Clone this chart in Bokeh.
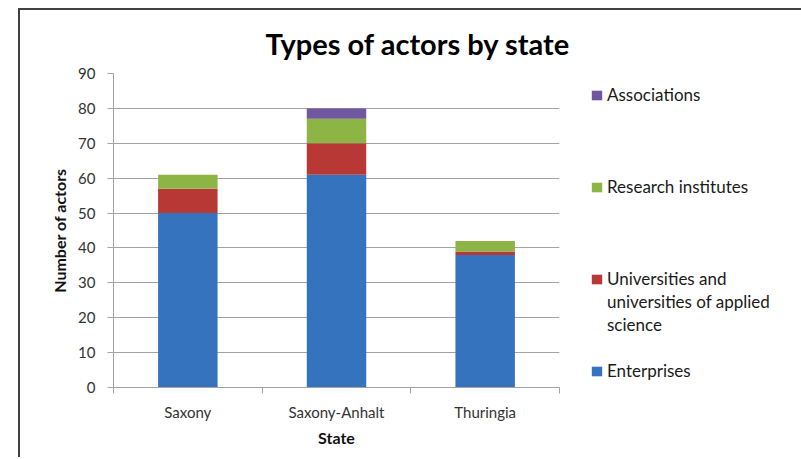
from bokeh.plotting import figure
from bokeh.models import (Range1d, FixedTicker, Legend, LegendItem, ColumnDataSource)
from bokeh.embed import file_html
from bokeh.resources import INLINE

# ---- data ----
states = ["Saxony", "Saxony-Anhalt", "Thuringia"]
enterprises = [50, 61, 38]
universities = [7, 9, 1]
research = [4, 7, 3]
associations = [0, 3, 0]
series_keys = ["enterprises", "universities", "research", "associations"]
colors = ["#3673BE", "#B83835", "#8CB545", "#7057A0"]
y_ticks = [0, 10, 20, 30, 40, 50, 60, 70, 80, 90]
title_text = "Types of actors by state"
# legend rows, top to bottom: (text, index of series whose swatch is shown or None)
legend_rows = [("Associations", 3), (" ", None), (" ", None), (" ", None),
               ("Research institutes", 2), (" ", None), (" ", None), (" ", None),
               ("Universities and", 1), ("universities of applied", None), ("science", None),
               (" ", None), ("Enterprises", 0)]

FONT = "Lato"
xs = [i + 0.5 for i in range(len(states))]
src = ColumnDataSource(dict(x=xs, enterprises=enterprises, universities=universities,
                            research=research, associations=associations))

p = figure(x_range=Range1d(0, len(states)), y_range=Range1d(0, 90),
           frame_width=446, frame_height=314,
           min_border_left=93, min_border_right=240,
           min_border_top=63, min_border_bottom=70,
           output_backend="svg", toolbar_location=None,
           title=title_text)
p.styles = {"border-top": "2px solid #404040", "border-left": "2px solid #404040",
            "margin-left": "18px", "margin-top": "8px"}
p.outline_line_color = None
p.background_fill_color = "white"
p.border_fill_color = "white"

p.title.align = "left"
p.title.offset = 152
p.title.standoff = 26
p.title.text_font = FONT
p.title.text_font_size = "29px"
p.title.text_font_style = "bold"
p.title.text_color = "#000000"

rs = p.vbar_stack(series_keys, x="x", width=0.4, fill_color=colors,
                  line_color=None, source=src)

# axes
grey = "#A3A3A3"
p.xaxis.ticker = FixedTicker(ticks=xs, minor_ticks=list(range(len(states) + 1)))
p.xaxis.major_label_overrides = {x: s for x, s in zip(xs, states)}
p.xaxis.major_tick_out = 0
p.xaxis.major_tick_in = 0
p.xaxis.minor_tick_out = 6
p.xaxis.minor_tick_in = 0
p.xaxis.minor_tick_line_color = grey
p.xaxis.axis_line_color = grey
p.xaxis.major_label_standoff = 9
p.xaxis.axis_label = "State"
p.xaxis.axis_label_standoff = 4

p.yaxis.ticker = FixedTicker(ticks=y_ticks)
p.yaxis.major_tick_out = 6
p.yaxis.major_tick_in = 0
p.yaxis.minor_tick_out = 0
p.yaxis.minor_tick_in = 0
p.yaxis.major_tick_line_color = grey
p.yaxis.axis_line_color = grey
p.yaxis.major_label_standoff = 12
p.yaxis.axis_label = "Number of actors"
p.yaxis.axis_label_standoff = 6

for ax in (p.xaxis[0], p.yaxis[0]):
    ax.major_label_text_font = FONT
    ax.major_label_text_font_size = "15px"
    ax.major_label_text_color = "#333333"
    ax.axis_label_text_font = FONT
    ax.axis_label_text_font_size = "16px"
    ax.axis_label_text_font_style = "bold"
    ax.axis_label_text_color = "#111111"

p.xgrid.visible = False
p.ygrid.grid_line_color = grey
p.ygrid.ticker = FixedTicker(ticks=y_ticks)

legend = Legend(items=[LegendItem(label=t, renderers=([rs[i]] if i is not None else []))
                       for t, i in legend_rows],
                location=(31, 5), orientation="vertical",
                glyph_width=13, glyph_height=12, label_height=23, spacing=0,
                padding=0, margin=0, label_standoff=4,
                border_line_color=None, background_fill_alpha=0,
                label_text_font=FONT, label_text_font_size="17px",
                label_text_color="#1a1a1a")
p.add_layout(legend, "right")

open("out.html", "w").write(file_html(p, INLINE))
